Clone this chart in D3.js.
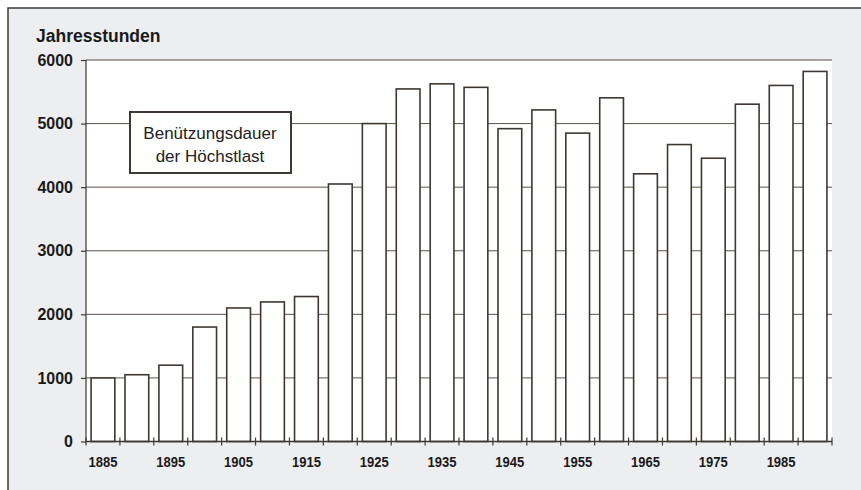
<!DOCTYPE html>
<html><head><meta charset="utf-8">
<script src="https://cdn.jsdelivr.net/npm/d3@7"></script>
<style>
html,body{margin:0;padding:0;background:#fff;}
svg{display:block;}
text{font-family:"Liberation Sans",Arial,sans-serif;}
</style></head>
<body>
<script>
const years = [1885,1890,1895,1900,1905,1910,1915,1920,1925,1930,1935,1940,1945,1950,1955,1960,1965,1970,1975,1980,1985,1990];
const values = [1000,1050,1200,1800,2100,2195,2280,4050,5000,5545,5625,5570,4920,5215,4850,5405,4210,4670,4455,5305,5600,5820];
const yTicks = [0,1000,2000,3000,4000,5000,6000];
const xLabels = [1885,1895,1905,1915,1925,1935,1945,1955,1965,1975,1985];
const yTitle = "Jahresstunden";
const legendLines = ["Benützungsdauer","der Höchstlast"];

(function(){
const W = 861, H = 490;
const ink = "#3f3733";
const svg = d3.select("body").append("svg").attr("width", W).attr("height", H);

// background panel
svg.append("rect").attr("x", 8).attr("y", 8).attr("width", W + 20).attr("height", H + 20)
  .attr("fill", "#eceef0").attr("stroke", ink).attr("stroke-width", 1.5);

const pL = 86, pR = 832, pT = 60, pB = 441.5;
const x = d3.scaleBand().domain(years).range([pL, pR]).paddingInner(0.3).paddingOuter(0.15);
const y = d3.scaleLinear().domain([0, 6000]).range([pB, pT]);

// plot area
svg.append("rect").attr("x", pL).attr("y", pT).attr("width", pR - pL).attr("height", pB - pT).attr("fill", "#fff");

// gridlines
svg.append("g").selectAll("line").data(yTicks.filter(d => d > 0)).join("line")
  .attr("x1", pL).attr("x2", pR).attr("y1", d => y(d)).attr("y2", d => y(d))
  .attr("stroke", "#5a514c").attr("stroke-width", 1);

// bars
svg.append("g").selectAll("rect").data(values).join("rect")
  .attr("x", (d, i) => x(years[i]))
  .attr("y", d => y(d))
  .attr("width", x.bandwidth())
  .attr("height", d => pB - y(d))
  .attr("fill", "#fff").attr("stroke", ink).attr("stroke-width", 1.6);

// y axis
const yAxis = d3.axisLeft(y).tickValues(yTicks).tickSize(5).tickPadding(8).tickFormat(d3.format("d"));
const gy = svg.append("g").attr("transform", `translate(${pL},0)`).call(yAxis);
gy.select(".domain").attr("stroke", ink).attr("stroke-width", 1.2).attr("d", `M0,${pB}V${pT}`);
gy.selectAll(".tick line").attr("stroke", ink).attr("stroke-width", 1.2);
gy.selectAll(".tick text").attr("fill", "#1a1a1a").style("font-size", "16px").style("font-weight", "bold")
  .style("font-family", '"Liberation Sans",Arial,sans-serif');

// x axis: ticks at band boundaries
const step = x.step();
const b0 = x(years[0]) - step * x.paddingOuter();
const gx = svg.append("g");
gx.append("line").attr("x1", pL).attr("x2", pR).attr("y1", pB).attr("y2", pB)
  .attr("stroke", ink).attr("stroke-width", 1.4);
gx.selectAll("line.tk").data(d3.range(years.length + 1)).join("line").attr("class", "tk")
  .attr("x1", i => b0 + i * step)
  .attr("x2", i => b0 + i * step)
  .attr("y1", pB - 4).attr("y2", pB + 4)
  .attr("stroke", ink).attr("stroke-width", 1.2);
gx.selectAll("text").data(xLabels).join("text")
  .attr("x", d => x(d) + x.bandwidth() / 2)
  .attr("y", 466.5)
  .attr("text-anchor", "middle")
  .attr("textLength", 29).attr("lengthAdjust", "spacingAndGlyphs")
  .attr("fill", "#1a1a1a").style("font-size", "14px").style("font-weight", "bold")
  .text(d => d);

// y title
svg.append("text").attr("x", 36).attr("y", 42).attr("fill", "#1a1a1a")
  .style("font-size", "17.5px").style("font-weight", "bold").text(yTitle);

// legend box
svg.append("rect").attr("x", 130).attr("y", 112).attr("width", 161).attr("height", 61)
  .attr("fill", "#fff").attr("stroke", ink).attr("stroke-width", 2);
svg.append("g").selectAll("text").data(legendLines).join("text")
  .attr("x", 210).attr("y", (d, i) => 139 + i * 22.5)
  .attr("text-anchor", "middle").attr("fill", "#222")
  .style("font-size", "17px").text(d => d);
})();
</script>
</body></html>
